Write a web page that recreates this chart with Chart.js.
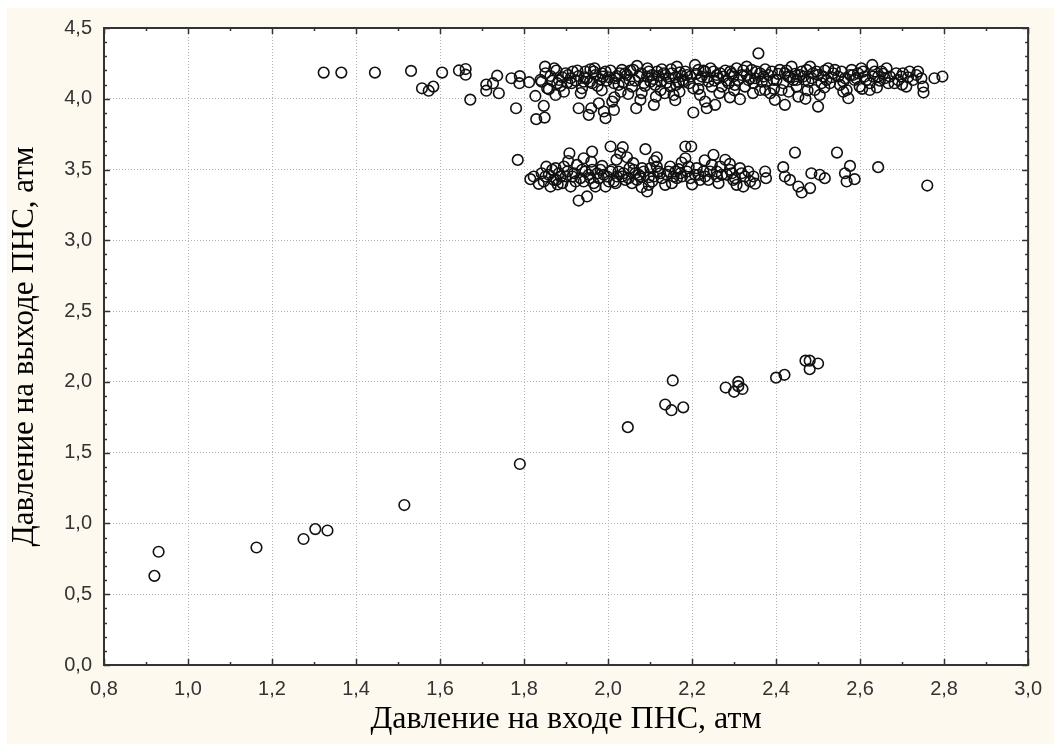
<!DOCTYPE html>
<html>
<head>
<meta charset="utf-8">
<title>Давление ПНС</title>
<script src="https://cdn.jsdelivr.net/npm/chart.js@4.4.1/dist/chart.umd.min.js"></script>
<style>
  html, body { margin: 0; padding: 0; background: #ffffff; }
  #wrap { position: relative; width: 1054px; height: 744px; }
</style>
</head>
<body>
<div id="wrap"><canvas id="chart" width="1054" height="744"></canvas></div>
<script>
// нижняя группа точек
const lowerX = [0.92, 0.93, 1.163, 1.275, 1.303, 1.332, 1.515, 1.79, 2.047, 2.136, 2.151, 2.154, 2.179,
  2.28, 2.30, 2.31, 2.32, 2.31, 2.40, 2.42, 2.47, 2.48, 2.48, 2.50];
const lowerY = [0.63, 0.80, 0.83, 0.89, 0.96, 0.95, 1.13, 1.42, 1.68, 1.84, 1.80, 2.01, 1.82,
  1.96, 1.93, 2.00, 1.95, 1.97, 2.03, 2.05, 2.15, 2.09, 2.15, 2.13];

// средняя полоса (~3,5 атм)
const middleX = [1.785, 1.815, 1.823, 1.835, 1.853, 1.859, 1.875, 1.877, 1.895, 1.899, 1.908, 1.911, 1.919,
  1.926, 1.930, 1.934, 1.942, 1.950, 1.954, 1.962, 1.962, 1.966, 1.978, 1.986, 1.994, 2.006, 2.006, 2.018,
  2.029, 2.035, 2.033, 2.045, 2.051, 2.057, 2.073, 2.089, 2.097, 2.097, 2.093, 2.116, 2.116, 2.136, 2.156,
  2.168, 2.184, 2.198, 2.184, 2.192, 2.207, 2.227, 2.247, 2.251, 2.239, 2.259,
  1.851, 1.883, 1.923, 1.946, 1.974, 1.998, 2.025, 2.041, 2.065, 2.081, 2.109, 2.124, 2.144, 2.152, 2.176,
  2.219, 1.863, 2.014,
  2.259, 2.263, 2.279, 2.283, 2.295, 2.306, 2.314, 2.322, 2.326, 2.346, 2.374, 2.376, 2.417, 2.421, 2.433,
  2.445, 2.453, 2.461, 2.481, 2.484, 2.504, 2.516, 2.545, 2.564, 2.568, 2.576, 2.587, 2.643, 2.760, 2.267,
  2.298, 2.334,
  1.842, 1.847, 1.867, 1.871, 1.887, 1.891, 1.903, 1.915, 1.938, 1.942, 1.958, 1.970, 1.982, 1.990, 2.002,
  2.010, 2.021, 2.037, 2.049, 2.061, 2.069, 2.077, 2.085, 2.101, 2.105, 2.120, 2.128, 2.140, 2.148, 2.160,
  2.164, 2.172, 2.188, 2.196, 2.211, 2.215, 2.231, 2.243, 2.271, 2.290, 2.302, 2.318, 2.338,
  1.905, 1.960, 2.020, 2.060, 2.110, 2.175, 2.230, 2.290, 1.880, 2.080, 2.200, 2.350];
const middleY = [3.568, 3.432, 3.451, 3.399, 3.520, 3.463, 3.510, 3.427, 3.521, 3.451, 3.615, 3.380, 3.474,
  3.533, 3.281, 3.439, 3.580, 3.310, 3.463, 3.627, 3.498, 3.404, 3.439, 3.526, 3.380, 3.663, 3.486, 3.404,
  3.615, 3.658, 3.451, 3.587, 3.510, 3.404, 3.463, 3.644, 3.392, 3.446, 3.345, 3.587, 3.521, 3.392, 3.451,
  3.503, 3.663, 3.663, 3.580, 3.521, 3.463, 3.486, 3.533, 3.604, 3.427, 3.451,
  3.451, 3.474, 3.416, 3.486, 3.474, 3.451, 3.486, 3.427, 3.474, 3.510, 3.451, 3.474, 3.486, 3.404, 3.451,
  3.427, 3.380, 3.416,
  3.486, 3.404, 3.569, 3.463, 3.474, 3.392, 3.510, 3.380, 3.451, 3.451, 3.486, 3.439, 3.517, 3.451, 3.427,
  3.620, 3.380, 3.338, 3.369, 3.474, 3.463, 3.439, 3.620, 3.474, 3.416, 3.526, 3.432, 3.517, 3.387, 3.521,
  3.427, 3.486,
  3.474, 3.416, 3.498, 3.427, 3.451, 3.404, 3.486, 3.451, 3.498, 3.416, 3.439, 3.380, 3.498, 3.463, 3.416,
  3.498, 3.451, 3.474, 3.439, 3.498, 3.427, 3.451, 3.486, 3.510, 3.416, 3.486, 3.439, 3.463, 3.521, 3.486,
  3.439, 3.474, 3.486, 3.439, 3.510, 3.463, 3.451, 3.486, 3.463, 3.498, 3.439, 3.474, 3.416,
  3.560, 3.555, 3.570, 3.545, 3.560, 3.550, 3.565, 3.540, 3.395, 3.375, 3.395, 3.400];

// верхняя полоса (~4,1 атм)
const upperX = [1.323, 1.365, 1.445, 1.531, 1.557, 1.573, 1.584, 1.605, 1.645, 1.661, 1.661, 1.672, 1.710,
  1.710, 1.726, 1.736, 1.740, 1.770, 1.781, 1.789, 1.790, 1.812, 1.827, 1.829, 1.842, 1.847, 1.849, 1.850,
  1.855,
  1.839, 1.859, 1.875, 1.863, 1.877, 1.883, 1.899, 1.903, 1.916, 1.923, 1.930, 1.942, 1.946, 1.954, 1.960,
  1.962, 1.966, 1.978, 1.982, 1.990, 1.994, 1.994, 2.010, 2.014, 2.014, 2.021, 2.033, 2.048, 2.051, 2.067,
  2.069, 2.073, 2.077, 2.085, 2.097, 2.101, 2.109, 2.114, 2.120, 2.128, 2.135, 2.140, 2.152, 2.156, 2.164,
  2.168, 2.180, 2.184, 2.203, 2.203, 2.207, 2.219, 2.223, 2.231, 2.235, 2.247, 2.251, 2.255,
  1.891, 1.930, 1.970, 2.002, 2.025, 2.041, 2.057, 2.105, 2.112, 2.136, 2.160, 2.196, 2.215, 2.239, 2.259,
  1.911, 1.950, 1.986, 1.958, 1.879, 2.053, 2.093, 2.148, 2.176, 2.231,
  2.358, 2.314, 2.275, 2.291, 2.287, 2.306, 2.310, 2.330, 2.330, 2.326, 2.346, 2.354, 2.370, 2.374, 2.386,
  2.390, 2.397, 2.401, 2.413, 2.421, 2.421, 2.437, 2.441, 2.449, 2.453, 2.461, 2.469, 2.481, 2.488, 2.492,
  2.500, 2.504, 2.512, 2.524, 2.528, 2.548, 2.556, 2.568, 2.572, 2.580, 2.587, 2.595, 2.599, 2.611, 2.623,
  2.629, 2.631, 2.651, 2.663, 2.667, 2.682, 2.686, 2.710, 2.718, 2.726, 2.738, 2.746, 2.750, 2.751, 2.777,
  2.796,
  2.267, 2.298, 2.338, 2.362, 2.378, 2.409, 2.429, 2.457, 2.477, 2.496, 2.520, 2.536, 2.564, 2.583, 2.607,
  2.643, 2.659, 2.698, 2.271, 2.362, 2.449, 2.552, 2.623,
  1.851, 1.867, 1.872, 1.887, 1.905, 1.913, 1.927, 1.938, 1.944, 1.957, 1.968, 1.975, 1.988, 1.997, 2.006,
  2.017, 2.028, 2.036, 2.045, 2.060, 2.064, 2.079, 2.088, 2.094, 2.108, 2.117, 2.126, 2.133, 2.145, 2.150,
  2.162, 2.171, 2.178, 2.188, 2.193, 2.210, 2.218, 2.227, 2.236, 2.244, 2.253, 2.262,
  2.279, 2.283, 2.295, 2.302, 2.318, 2.322, 2.334, 2.342, 2.350, 2.366, 2.374, 2.382, 2.394, 2.405, 2.417,
  2.425, 2.433, 2.445, 2.465, 2.473, 2.485, 2.500, 2.508, 2.516, 2.532, 2.540, 2.560, 2.576, 2.591, 2.603,
  2.615, 2.635, 2.647, 2.655, 2.671, 2.690, 2.702, 2.714, 2.734,
  1.895, 1.935, 1.985, 2.030, 2.080, 2.125, 2.170, 2.215, 2.265, 2.300, 2.345, 2.395, 2.430, 2.475, 2.515,
  2.560, 2.605, 2.640, 2.700, 2.015, 2.160, 2.290, 2.470];
const upperY = [4.185, 4.185, 4.185, 4.197, 4.074, 4.057, 4.086, 4.185, 4.200, 4.210, 4.170, 3.994, 4.100,
  4.057, 4.110, 4.163, 4.039, 4.145, 3.933, 4.110, 4.160, 4.117, 4.020, 3.856, 4.121, 3.950, 3.867, 4.227,
  4.074,
  4.133, 4.067, 4.027, 4.161, 4.199, 4.133, 4.180, 4.114, 4.192, 4.128, 3.933, 4.121, 4.192, 3.886, 3.933,
  4.110, 4.192, 3.968, 4.138, 3.910, 3.863, 4.192, 3.980, 3.921, 4.110, 4.161, 4.204, 4.034, 4.133, 3.933,
  4.232, 4.157, 3.992, 4.110, 4.192, 4.121, 3.957, 4.015, 4.161, 4.208, 4.039, 4.114, 4.180, 4.027, 4.227,
  4.114, 4.121, 4.192, 3.903, 4.074, 4.239, 4.027, 4.157, 3.980, 3.933, 4.086, 4.192, 3.957,
  4.152, 4.161, 4.168, 4.152, 4.098, 4.180, 4.086, 4.168, 4.098, 4.168, 4.152, 4.157, 4.204, 4.121, 4.168,
  4.145, 4.145, 4.180, 4.208, 4.110, 4.199, 4.157, 4.086, 4.161, 4.192,
  4.321, 3.997, 4.157, 4.192, 4.110, 4.215, 4.133, 4.227, 4.168, 4.086, 4.110, 4.192, 4.157, 4.062, 4.039,
  4.192, 3.992, 4.133, 4.062, 3.957, 4.180, 4.227, 4.133, 4.086, 4.015, 4.192, 4.133, 4.227, 4.180, 4.062,
  3.945, 4.027, 4.157, 4.215, 4.110, 4.157, 4.192, 4.062, 4.004, 4.204, 4.133, 4.180, 4.086, 4.157, 4.062,
  4.239, 4.157, 4.192, 4.215, 4.110, 4.110, 4.180, 4.086, 4.192, 4.133, 4.192, 4.145, 4.086, 4.044, 4.145,
  4.157,
  4.180, 4.157, 4.145, 4.180, 4.121, 4.204, 4.157, 4.168, 4.121, 4.192, 4.133, 4.180, 4.145, 4.168, 4.192,
  4.157, 4.145, 4.157, 4.086, 4.062, 4.133, 4.098, 4.110,
  4.180, 4.128, 4.215, 4.091, 4.168, 4.110, 4.199, 4.074, 4.152, 4.121, 4.215, 4.091, 4.157, 4.128, 4.199,
  4.145, 4.180, 4.116, 4.168, 4.204, 4.128, 4.180, 4.091, 4.215, 4.140, 4.192, 4.121, 4.180, 4.145, 4.208,
  4.098, 4.186, 4.133, 4.168, 4.110, 4.176, 4.133, 4.199, 4.152, 4.215, 4.128, 4.145,
  4.199, 4.128, 4.176, 4.098, 4.168, 4.199, 4.133, 4.204, 4.145, 4.121, 4.208, 4.168, 4.133, 4.176, 4.110,
  4.199, 4.152, 4.176, 4.157, 4.204, 4.145, 4.168, 4.110, 4.199, 4.152, 4.204, 4.121, 4.168, 4.145, 4.215,
  4.133, 4.192, 4.128, 4.176, 4.157, 4.133, 4.180, 4.152, 4.168,
  4.050, 4.040, 4.060, 4.050, 4.040, 4.060, 4.050, 4.070, 4.040, 4.060, 4.040, 4.070, 4.050, 4.060, 4.080,
  4.050, 4.070, 4.080, 4.100, 4.010, 3.990, 4.010, 4.000];

const xTickLabels = ['0,8', '1,0', '1,2', '1,4', '1,6', '1,8', '2,0', '2,2', '2,4', '2,6', '2,8', '3,0'];
const yTickLabels = ['0,0', '0,5', '1,0', '1,5', '2,0', '2,5', '3,0', '3,5', '4,0', '4,5'];

const xTitle = 'Давление на входе ПНС, атм';
const yTitle = 'Давление на выходе ПНС, атм';

function toPoints(xs, ys) {
  return xs.map((x, i) => ({ x: x, y: ys[i] }));
}

const allPoints = toPoints(lowerX, lowerY)
  .concat(toPoints(middleX, middleY))
  .concat(toPoints(upperX, upperY));

// фон страницы и рамка с засечками внутрь
const framePlugin = {
  id: 'frame',
  beforeDraw(chart) {
    const { ctx, chartArea: a } = chart;
    ctx.save();
    ctx.fillStyle = '#ffffff';
    ctx.fillRect(0, 0, chart.width, chart.height);
    ctx.fillStyle = '#fdf9ee';
    ctx.fillRect(7, 8, chart.width - 7, chart.height - 8);
    ctx.fillStyle = '#ffffff';
    ctx.fillRect(a.left, a.top, a.right - a.left, a.bottom - a.top);
    ctx.restore();
  },
  afterDraw(chart) {
    const { ctx, chartArea: a, scales } = chart;
    const xs = scales.x, ys = scales.y;
    ctx.save();
    ctx.strokeStyle = '#333333';
    ctx.lineWidth = 1.5;
    ctx.beginPath();
    for (let i = 8; i <= 30; i++) {
      const px = Math.round(xs.getPixelForValue(i / 10)) + 0.5;
      const len = i % 2 === 0 ? 6 : 3;
      ctx.moveTo(px, a.bottom); ctx.lineTo(px, a.bottom - len);
      ctx.moveTo(px, a.top); ctx.lineTo(px, a.top + len);
    }
    for (let i = 0; i <= 45; i++) {
      const py = Math.round(ys.getPixelForValue(i / 10)) + 0.5;
      const len = i % 5 === 0 ? 6 : 3;
      ctx.moveTo(a.left, py); ctx.lineTo(a.left + len, py);
      ctx.moveTo(a.right, py); ctx.lineTo(a.right - len, py);
    }
    ctx.stroke();
    ctx.lineWidth = 2;
    ctx.strokeRect(a.left, a.top, a.right - a.left, a.bottom - a.top);
    ctx.restore();
  }
};

new Chart(document.getElementById('chart'), {
  type: 'scatter',
  data: {
    datasets: [{
      data: allPoints,
      pointRadius: 5.3,
      pointBorderWidth: 1.6,
      pointBorderColor: '#111111',
      pointBackgroundColor: 'rgba(255,255,255,0)'
    }]
  },
  options: {
    responsive: false,
    animation: false,
    events: [],
    layout: { padding: { top: 28, right: 24, left: 0, bottom: 0 } },
    plugins: { legend: { display: false }, tooltip: { enabled: false } },
    scales: {
      x: {
        type: 'linear',
        min: 0.8,
        max: 3.0,
        afterFit(s) { s.height = 79; },
        afterBuildTicks(s) { s.ticks = xTickLabels.map((t, i) => ({ value: 0.8 + i * 0.2 })); },
        ticks: {
          padding: 12,
          color: '#333333',
          font: { family: 'Liberation Sans', size: 20 },
          callback: (v, i) => xTickLabels[i]
        },
        grid: { color: '#b4b4b4', lineWidth: 1, drawTicks: false },
        border: { display: false, dash: [1, 2] },
        title: {
          display: true,
          text: xTitle,
          color: '#000000',
          font: { family: 'Liberation Serif', size: 32 },
          padding: { top: 0, bottom: 5 }
        }
      },
      y: {
        type: 'linear',
        min: 0,
        max: 4.5,
        afterFit(s) { s.width = 104; },
        afterBuildTicks(s) { s.ticks = yTickLabels.map((t, i) => ({ value: i * 0.5 })); },
        ticks: {
          padding: 12,
          color: '#333333',
          font: { family: 'Liberation Sans', size: 20 },
          callback: (v, i) => yTickLabels[i]
        },
        grid: { color: '#b4b4b4', lineWidth: 1, drawTicks: false },
        border: { display: false, dash: [1, 2] },
        title: {
          display: true,
          text: yTitle,
          color: '#000000',
          font: { family: 'Liberation Serif', size: 31 },
          padding: { top: 6, bottom: 0 }
        }
      }
    }
  },
  plugins: [framePlugin]
});
</script>
</body>
</html>
